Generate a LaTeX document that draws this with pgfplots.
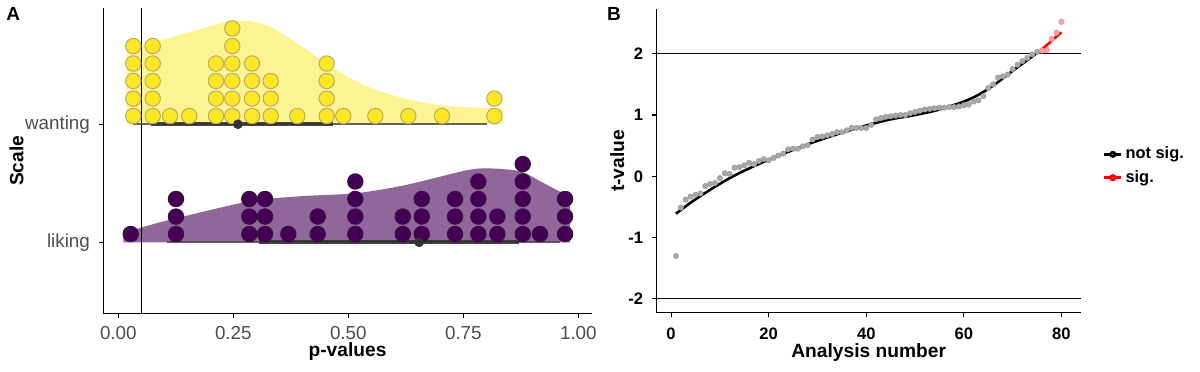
\documentclass[border=0pt]{standalone}
\usepackage{fontspec}
\setmainfont{Liberation Sans}
\setsansfont{Liberation Sans}
\usepackage{pgfplots}
\pgfplotsset{compat=1.18}
\definecolor{vyel}{HTML}{FDE725}
\definecolor{vpur}{HTML}{440154}
\definecolor{tickgray}{HTML}{4D4D4D}
\definecolor{ptgray}{HTML}{A8A8A8}
\definecolor{ptred}{HTML}{F5A3A3}
\definecolor{yeledge}{RGB}{185,172,105}
\definecolor{puredge}{RGB}{60,10,75}
\begin{document}
\begin{tikzpicture}
\useasboundingbox (0,0) rectangle (600pt,185.5pt);
\node[font=\bfseries\fontsize{9.5}{10}\selectfont, inner sep=0pt] at (6.65pt,178.3pt) {A};
\node[font=\bfseries\fontsize{9.5}{10}\selectfont, inner sep=0pt] at (307pt,178.3pt) {B};
% ---------------- Panel A ----------------
\begin{axis}[
  at={(51.65pt,28.85pt)}, anchor=south west, scale only axis,
  width=244.2pt, height=152.5pt,
  xmin=-0.0326, xmax=1.029, ymin=0.398, ymax=2.983,
  axis x line*=bottom, axis y line*=left,
  axis line style={black, line width=0.55pt},
  xtick={0,0.25,0.5,0.75,1}, xticklabels={0.00,0.25,0.50,0.75,1.00},
  ytick={1,2}, yticklabels={liking,wanting},
  tick align=outside, major tick length=2.3pt,
  tick style={black, line width=0.55pt},
  ticklabel style={font=\fontsize{9.4}{10}\selectfont, text=tickgray, inner sep=0pt},
  xticklabel style={anchor=north, yshift=-4.2pt},
  yticklabel style={anchor=east, xshift=-4.2pt},
  xlabel={p-values}, ylabel={Scale},
  label style={font=\bfseries\fontsize{9.6}{10}\selectfont, inner sep=0pt},
  xlabel style={at={(axis description cs:0.5,-0.142)}, anchor=base},
  ylabel style={at={(axis description cs:-0.1638,0.5)}, anchor=base},
  clip=false,
]
% density wanting
\addplot[fill=vyel, fill opacity=0.5, draw=none, smooth, tension=0.5] coordinates {
 (0.018,2.635) (0.0907,2.712) (0.178,2.805) (0.25,2.881) (0.3225,2.839) (0.395,2.669)
 (0.467,2.475) (0.540,2.322) (0.612,2.229) (0.685,2.169) (0.757,2.144) (0.837,2.136)}
 -- (axis cs:0.837,2) -- (axis cs:0.018,2) -- cycle;
% density liking
\addplot[fill=vpur, fill opacity=0.6, draw=none, smooth, tension=0.5] coordinates {
 (0.011,1.075) (0.06,1.136) (0.1254,1.203) (0.285,1.347) (0.395,1.39) (0.515,1.415)
 (0.612,1.475) (0.685,1.542) (0.757,1.61) (0.801,1.627) (0.873,1.602) (0.917,1.517)
 (0.975,1.398) (0.982,1.38)}
 -- (axis cs:0.982,1) -- (axis cs:0.011,1) -- cycle;
% p = 0.05 line
\addplot[black, line width=0.55pt] coordinates {(0.051,0.398) (0.051,2.983)};
% dots wanting
\addplot[only marks, mark=*, mark size=3.85pt, mark options={fill=vyel, draw=yeledge, line width=0.5pt}] table {
x y
0.0326 2.070
0.0326 2.218
0.0326 2.367
0.0326 2.515
0.0326 2.663
0.0748 2.070
0.0748 2.218
0.0748 2.367
0.0748 2.515
0.0748 2.663
0.1124 2.070
0.1543 2.070
0.2124 2.070
0.2124 2.218
0.2124 2.367
0.2124 2.515
0.2478 2.070
0.2478 2.218
0.2478 2.367
0.2478 2.515
0.2478 2.663
0.2478 2.812
0.2907 2.070
0.2907 2.218
0.2907 2.367
0.2907 2.515
0.3313 2.070
0.3313 2.218
0.3313 2.367
0.3891 2.070
0.4530 2.070
0.4530 2.218
0.4530 2.367
0.4530 2.515
0.4891 2.070
0.5587 2.070
0.6304 2.070
0.7037 2.070
0.8174 2.070
0.8174 2.218
};
% dots liking
\addplot[only marks, mark=*, mark size=3.85pt, mark options={fill=vpur, draw=puredge, line width=0.5pt}] table {
x y
0.027 1.070
0.1254 1.070
0.1254 1.218
0.1254 1.367
0.2848 1.070
0.2848 1.218
0.2848 1.367
0.3189 1.070
0.3189 1.218
0.3189 1.367
0.3696 1.070
0.4335 1.070
0.4335 1.218
0.5152 1.070
0.5152 1.218
0.5152 1.367
0.5152 1.515
0.6183 1.070
0.6183 1.218
0.6596 1.070
0.6596 1.218
0.6596 1.367
0.7320 1.070
0.7320 1.218
0.7320 1.367
0.7826 1.070
0.7826 1.218
0.7826 1.367
0.7826 1.515
0.8239 1.070
0.8239 1.218
0.8791 1.070
0.8791 1.218
0.8791 1.367
0.8791 1.515
0.8791 1.663
0.9167 1.070
0.9711 1.070
0.9711 1.218
0.9711 1.367
};
% intervals
\addplot[black!70, line width=1.0pt, opacity=0.85] coordinates {(0.032,2) (0.802,2)};
\addplot[black!80, line width=2.0pt, opacity=0.9] coordinates {(0.070,2) (0.467,2)};
\addplot[only marks, mark=*, mark size=2.2pt, mark options={fill=black!80, draw=black!80}] coordinates {(0.260,2)};
\addplot[black!70, line width=1.0pt, opacity=0.85] coordinates {(0.106,1) (0.960,1)};
\addplot[black!80, line width=2.0pt, opacity=0.9] coordinates {(0.306,1) (0.871,1)};
\addplot[only marks, mark=*, mark size=2.2pt, mark options={fill=black!80, draw=black!80}] coordinates {(0.654,1)};
\end{axis}
% ---------------- Panel B ----------------
\begin{axis}[
  at={(328.35pt,29.15pt)}, anchor=south west, scale only axis,
  width=212pt, height=151.7pt,
  xmin=-2.95, xmax=83.95, ymin=-2.225, ymax=2.725,
  axis x line*=bottom, axis y line*=left,
  axis line style={black, line width=0.55pt},
  xtick={0,20,40,60,80}, xticklabels={0,20,40,60,80},
  ytick={-2,-1,0,1,2}, yticklabels={-2,-1,0,1,2},
  tick align=outside, major tick length=2.3pt,
  tick style={black, line width=0.55pt},
  ticklabel style={font=\bfseries\fontsize{8.3}{9}\selectfont, inner sep=0pt},
  xticklabel style={anchor=north, yshift=-5.0pt},
  yticklabel style={anchor=east, xshift=-4.3pt},
  xlabel={Analysis number}, ylabel={t-value},
  label style={font=\bfseries\fontsize{9.6}{10}\selectfont, inner sep=0pt},
  xlabel style={at={(axis description cs:0.5,-0.147)}, anchor=base},
  ylabel style={at={(axis description cs:-0.0771,0.5)}, anchor=base},
  clip=false,
  legend style={at={(axis description cs:1.052,0.4835)}, anchor=west, draw=none, fill=none,
    font=\bfseries\fontsize{8.2}{9}\selectfont, row sep=1.2pt, inner sep=0pt,
    nodes={inner sep=1.5pt},
    /tikz/every even column/.append style={column sep=3pt}},
  legend cell align=left,
  legend image code/.code={\draw[mark repeat=2,mark phase=2,#1] plot coordinates {(0pt,0pt) (4.2pt,0pt) (8.4pt,0pt)};},
]
\addplot[black, line width=0.55pt, forget plot] coordinates {(-2.95,2) (83.95,2)};
\addplot[black, line width=0.55pt, forget plot] coordinates {(-2.95,-2) (83.95,-2)};
\addplot[only marks, mark=*, mark size=1.35pt, mark options={fill=ptgray, draw=black!40, line width=0.25pt}, forget plot] table {
x y
1 -1.30
2 -0.51
3 -0.38
4 -0.33
5 -0.30
6 -0.28
7 -0.16
8 -0.125
9 -0.11
10 -0.03
11 0.05
12 0.04
13 0.14
14 0.15
15 0.18
16 0.22
17 0.20
18 0.25
19 0.28
20 0.26
21 0.30
22 0.34
23 0.37
24 0.44
25 0.45
26 0.45
27 0.49
28 0.51
29 0.60
30 0.64
31 0.65
32 0.67
33 0.69
34 0.72
35 0.72
36 0.75
37 0.79
38 0.79
39 0.79
40 0.79
41 0.84
42 0.93
43 0.95
44 0.97
45 0.98
46 0.99
47 1.00
48 1.00
49 1.03
50 1.05
51 1.07
52 1.09
53 1.10
54 1.11
55 1.12
56 1.12
57 1.13
58 1.13
59 1.14
60 1.16
61 1.17
62 1.22
63 1.24
64 1.31
65 1.44
66 1.50
67 1.61
68 1.63
69 1.66
70 1.75
71 1.82
72 1.88
73 1.93
74 1.99
75 2.03
};
\addplot[only marks, mark=*, mark size=1.35pt, mark options={fill=ptred, draw=ptred!80!red, line width=0.25pt}, forget plot] table {
x y
76 2.05
77 2.06
78 2.24
79 2.34
80 2.52
};
\addplot[black, line width=1.3pt, smooth, tension=0.6, forget plot] coordinates {
 (1,-0.61) (4,-0.43) (8,-0.22) (12,-0.03) (16,0.13) (20,0.27) (25,0.43) (30,0.58)
 (35,0.71) (40,0.83) (45,0.93) (50,1.0) (55,1.09) (60,1.22) (63,1.33) (66,1.48)
 (70,1.72) (75.3,2.03)};
\addplot[red, line width=1.3pt, forget plot] coordinates {(76,2.07) (80,2.35)};
\addlegendimage{black, line width=1.3pt, mark=*, mark size=1.1pt, mark options={fill=ptgray, draw=none}}
\addlegendentry{not sig.}
\addlegendimage{red, line width=1.3pt, mark=*, mark size=1.1pt, mark options={fill=ptred, draw=none}}
\addlegendentry{sig.}
\end{axis}
\end{tikzpicture}
\end{document}
